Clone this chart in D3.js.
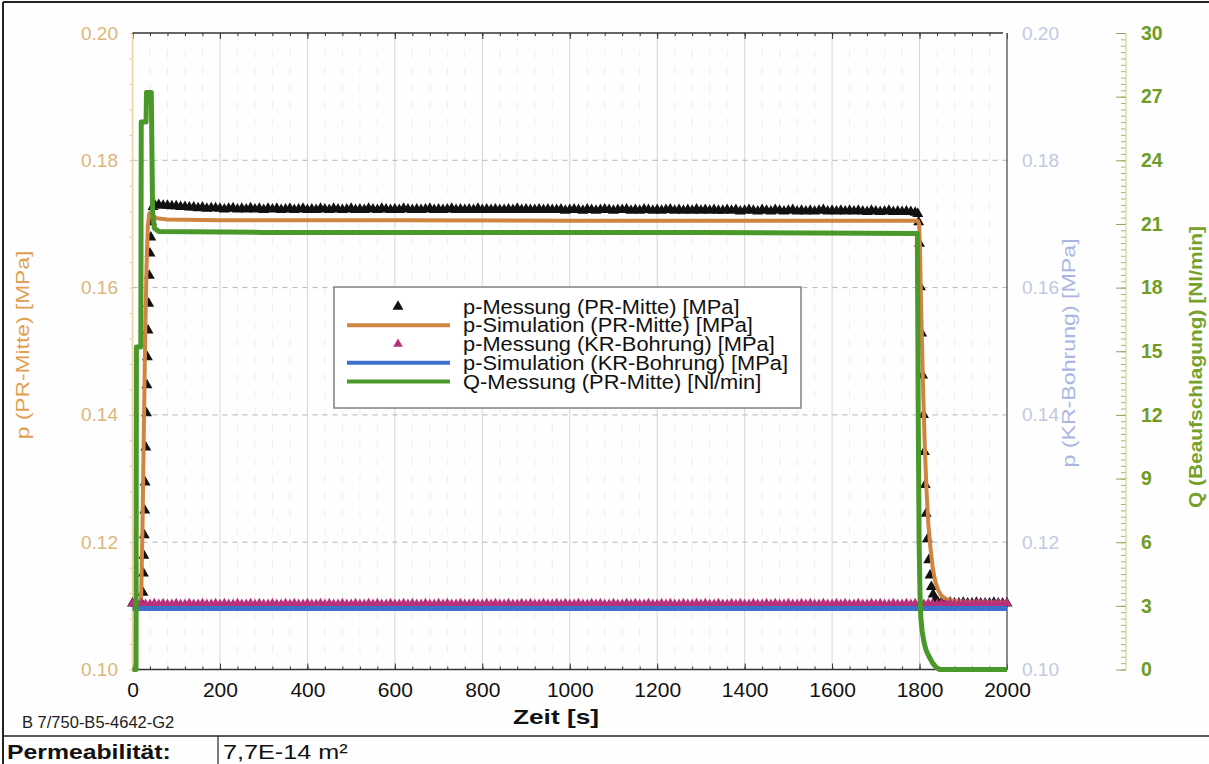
<!DOCTYPE html>
<html>
<head>
<meta charset="utf-8">
<script src="https://cdn.jsdelivr.net/npm/d3@7"></script>
<style>
body { margin: 0; background: #fff; }
svg { display: block; font-family: "Liberation Sans", Arial, sans-serif; }
</style>
</head>
<body>
<svg id="chart"></svg>
<script>
// axis ticks
const X_TICKS = [0, 200, 400, 600, 800, 1000, 1200, 1400, 1600, 1800, 2000];
const P_TICKS = [0.10, 0.12, 0.14, 0.16, 0.18, 0.20];
const Q_TICKS = [0, 3, 6, 9, 12, 15, 18, 21, 24, 27, 30];

const LEGEND_LABELS = [
    "p-Messung (PR-Mitte) [MPa]",
    "p-Simulation (PR-Mitte) [MPa]",
    "p-Messung (KR-Bohrung) [MPa]",
    "p-Simulation (KR-Bohrung) [MPa]",
    "Q-Messung (PR-Mitte) [Nl/min]"
];

// p-Messung (PR-Mitte): start + rise [t, p]
const BLACK_RISE = [
    [0, 0.1104], [10, 0.1103], [20, 0.1105], [24, 0.1121], [25, 0.1151], [26, 0.1179],
    [27, 0.1211], [28, 0.1250], [29, 0.1294], [30.5, 0.1349], [32, 0.1403], [33, 0.1447],
    [34, 0.1491], [35.5, 0.1533], [37, 0.1575], [38.5, 0.1619], [40, 0.1654], [42, 0.1679],
    [44, 0.1703], [47, 0.1727]
];
// plateau, one value every 10 s from 50 s
const BLACK_FLAT_START = 50, BLACK_FLAT_STEP = 10;
const BLACK_FLAT = [
    0.1731,0.1730,0.1729,0.1729,0.1728,0.1728,0.1727,0.1727,0.1726,0.1726,
    0.1725,0.1726,0.1724,0.1725,0.1725,0.1724,0.1723,0.1724,0.1725,0.1723,
    0.1724,0.1723,0.1725,0.1723,0.1724,0.1722,0.1724,0.1723,0.1724,0.1722,
    0.1723,0.1724,0.1722,0.1723,0.1724,0.1722,0.1723,0.1722,0.1724,0.1723,
    0.1722,0.1724,0.1723,0.1722,0.1723,0.1724,0.1722,0.1723,0.1722,0.1724,
    0.1723,0.1722,0.1724,0.1723,0.1722,0.1723,0.1722,0.1724,0.1723,0.1722,
    0.1723,0.1722,0.1723,0.1724,0.1722,0.1723,0.1722,0.1723,0.1724,0.1722,
    0.1723,0.1722,0.1723,0.1722,0.1724,0.1722,0.1723,0.1722,0.1723,0.1722,
    0.1722,0.1723,0.1722,0.1724,0.1722,0.1723,0.1722,0.1722,0.1723,0.1722,
    0.1723,0.1722,0.1722,0.1723,0.1721,0.1722,0.1723,0.1722,0.1721,0.1723,
    0.1722,0.1721,0.1722,0.1723,0.1722,0.1721,0.1722,0.1722,0.1723,0.1721,
    0.1722,0.1721,0.1723,0.1722,0.1721,0.1722,0.1721,0.1722,0.1723,0.1721,
    0.1722,0.1721,0.1722,0.1721,0.1723,0.1721,0.1722,0.1721,0.1722,0.1721,
    0.1721,0.1722,0.1721,0.1722,0.1720,0.1721,0.1722,0.1721,0.1720,0.1722,
    0.1721,0.1720,0.1722,0.1721,0.1720,0.1721,0.1722,0.1720,0.1721,0.1720,
    0.1721,0.1720,0.1721,0.1722,0.1720,0.1721,0.1720,0.1721,0.1720,0.1721,
    0.1720,0.1721,0.1720,0.1719,0.1721,0.1720,0.1719,0.1720,0.1721,0.1719,
    0.1720,0.1719,0.1720,0.1719,0.1718
];
// pressure release
const BLACK_DROP = [
    [1796, 0.1716], [1798, 0.1703], [1800, 0.1669], [1802, 0.1601], [1805, 0.1528],
    [1807, 0.1462], [1809, 0.1400], [1811, 0.1342], [1813, 0.1290], [1815, 0.1245],
    [1818, 0.1205], [1821, 0.1172], [1824, 0.1148], [1827, 0.1130], [1831, 0.1118],
    [1836, 0.1110], [1842, 0.1106]
];
const BLACK_TAIL_START = 1850, BLACK_TAIL_STEP = 10;
const BLACK_TAIL = [
    0.1105,0.1104,0.1105,0.1104,0.1104,0.1105,0.1104,0.1104,
    0.1105,0.1104,0.1104,0.1104,0.1105,0.1104,0.1104,0.1104
];

// p-Messung (KR-Bohrung), one value every 10 s
const PINK_START = 0, PINK_STEP = 10;
const PINK = [
    0.1104,0.1103,0.1104,0.1103,0.1103,0.1104,0.1103,0.1104,0.1103,0.1103,
    0.1104,0.1103,0.1103,0.1104,0.1103,0.1103,0.1104,0.1103,0.1103,0.1104,
    0.1103,0.1104,0.1103,0.1103,0.1104,0.1103,0.1103,0.1104,0.1103,0.1104,
    0.1103,0.1103,0.1104,0.1103,0.1103,0.1104,0.1103,0.1104,0.1103,0.1103,
    0.1104,0.1103,0.1103,0.1104,0.1103,0.1104,0.1103,0.1103,0.1104,0.1103,
    0.1103,0.1104,0.1103,0.1103,0.1104,0.1103,0.1104,0.1103,0.1103,0.1104,
    0.1103,0.1103,0.1104,0.1103,0.1104,0.1103,0.1103,0.1104,0.1103,0.1103,
    0.1104,0.1103,0.1104,0.1103,0.1103,0.1104,0.1103,0.1103,0.1104,0.1103,
    0.1103,0.1104,0.1103,0.1104,0.1103,0.1103,0.1104,0.1103,0.1103,0.1104,
    0.1103,0.1104,0.1103,0.1103,0.1104,0.1103,0.1103,0.1104,0.1103,0.1104,
    0.1103,0.1103,0.1104,0.1103,0.1103,0.1104,0.1103,0.1104,0.1103,0.1103,
    0.1104,0.1103,0.1103,0.1104,0.1103,0.1104,0.1103,0.1103,0.1104,0.1103,
    0.1103,0.1104,0.1103,0.1104,0.1103,0.1103,0.1104,0.1103,0.1103,0.1104,
    0.1103,0.1104,0.1103,0.1103,0.1104,0.1103,0.1103,0.1104,0.1103,0.1104,
    0.1103,0.1103,0.1104,0.1103,0.1103,0.1104,0.1103,0.1104,0.1103,0.1103,
    0.1104,0.1103,0.1103,0.1104,0.1103,0.1104,0.1103,0.1103,0.1104,0.1103,
    0.1103,0.1104,0.1103,0.1104,0.1103,0.1103,0.1104,0.1103,0.1103,0.1104,
    0.1103,0.1104,0.1103,0.1103,0.1104,0.1103,0.1103,0.1104,0.1103,0.1104,
    0.1103,0.1103,0.1104,0.1103,0.1103,0.1104,0.1103,0.1104,0.1103,0.1103,
    0.1104,0.1103,0.1103,0.1104,0.1103,0.1104,0.1103,0.1103,0.1104,0.1103,
    0.1104
];

// p-Simulation (PR-Mitte) [t, p]
const ORANGE = [
    [0, 0.1101], [18, 0.1101], [20, 0.1120], [23, 0.1230], [26, 0.1380], [29, 0.1520],
    [32, 0.1630], [35, 0.1695], [38, 0.1716], [42, 0.1719], [48, 0.1713], [55, 0.1709],
    [80, 0.1707], [200, 0.1706], [600, 0.1706], [1000, 0.1705], [1400, 0.1705],
    [1796, 0.1705], [1799, 0.1700], [1801, 0.1660], [1803, 0.1590], [1806, 0.1500],
    [1809, 0.1420], [1812, 0.1350], [1816, 0.1280], [1820, 0.1230], [1825, 0.1190],
    [1830, 0.1160], [1836, 0.1138], [1843, 0.1124], [1850, 0.1116], [1860, 0.1111],
    [1875, 0.1108], [1900, 0.1106], [2000, 0.1105]
];

// p-Simulation (KR-Bohrung) [t, p]
const BLUE = [[0, 0.1096], [2000, 0.1096]];

// Q-Messung (PR-Mitte) [t, Nl/min]
const GREEN = [
    [0, 0], [8, 0], [9, 15.2], [19, 15.2], [20, 25.8], [31, 25.8], [32, 27.2], [43, 27.2],
    [46, 21.5], [50, 20.8], [60, 20.65], [300, 20.6], [800, 20.6], [1300, 20.6],
    [1795, 20.55], [1797, 12.0], [1799, 6.0], [1801, 3.6], [1803, 2.4], [1806, 1.8],
    [1810, 1.3], [1815, 0.9], [1822, 0.6], [1830, 0.3], [1838, 0.1], [1846, 0], [2000, 0]
];

const W = 1209, H = 764;
const LEFT = 132.5, RIGHT = 1007, TOP = 33, BOTTOM = 669.5;
const Q_AXIS_X = 1126;

const C_ORANGE = "#cf8440", C_BLUE = "#3f6fcc", C_GREEN = "#4a982a", C_PINK = "#b8327a";
const FONT = "Liberation Sans, Arial, sans-serif";

window.onload = function(){
    drawChart();
};

// text with horizontal stretch (the scan has wide glyphs)
function addText(parent, str, x, y, o){
    return parent.append("text")
        .attr("transform", `translate(${x},${y}) rotate(${o.rotate || 0}) scale(${o.sx || 1},1)`)
        .attr("font-size", o.size)
        .attr("font-weight", o.weight || "normal")
        .attr("fill", o.color || "#000")
        .attr("text-anchor", o.anchor || "start")
        .attr("dominant-baseline", o.baseline || "auto")
        .text(str);
}

function drawChart(){
    let svg = d3.select("#chart")
        .attr("width", W)
        .attr("height", H);

    svg.append("rect").attr("width", W).attr("height", H).attr("fill", "#fefefe");

    let xScale = d3.scaleLinear().domain([0, 2000]).range([LEFT, RIGHT]);
    let pScale = d3.scaleLinear().domain([0.10, 0.20]).range([BOTTOM, TOP]);
    let qScale = d3.scaleLinear().domain([0, 30]).range([BOTTOM, TOP]);

    // grid
    let minorX = d3.range(0, 2001, 40);
    svg.append("g").selectAll("line")
        .data(minorX.filter(d => d % 200 != 0))
        .join("line")
        .attr("x1", d => xScale(d)).attr("x2", d => xScale(d))
        .attr("y1", TOP).attr("y2", BOTTOM)
        .attr("stroke", "#eeeeee")
        .attr("stroke-dasharray", "8,9");

    svg.append("g").selectAll("line")
        .data(X_TICKS.filter(d => d > 0 && d < 2000))
        .join("line")
        .attr("x1", d => xScale(d)).attr("x2", d => xScale(d))
        .attr("y1", TOP).attr("y2", BOTTOM)
        .attr("stroke", "#d6d6d6");

    svg.append("g").selectAll("line")
        .data(P_TICKS.filter(d => d > 0.101 && d < 0.199))
        .join("line")
        .attr("x1", LEFT).attr("x2", RIGHT)
        .attr("y1", d => pScale(d)).attr("y2", d => pScale(d))
        .attr("stroke", "#b4b4b4")
        .attr("stroke-dasharray", "5,5");

    // x axes (bottom + top) with inward ticks
    let minorP = d3.range(0.10, 0.2001, 0.004);
    let minorQ = d3.range(0, 30.01, 0.3);

    function xTicks(axisFn, y, values, size){
        let g = svg.append("g").attr("transform", `translate(0,${y})`)
            .call(axisFn(xScale).tickValues(values).tickSize(size).tickFormat(""));
        g.selectAll("line").attr("stroke", "#333");
        g.select(".domain").remove();
    }
    xTicks(d3.axisBottom, BOTTOM, minorX, -3);
    xTicks(d3.axisBottom, BOTTOM, X_TICKS, -6);
    xTicks(d3.axisTop, TOP, minorX, -3);
    xTicks(d3.axisTop, TOP, X_TICKS, -6);

    // left p axis ticks (tan)
    let gl = svg.append("g").attr("transform", `translate(${LEFT},0)`)
        .call(d3.axisLeft(pScale).tickValues(minorP).tickSize(3).tickFormat(""));
    gl.selectAll("line").attr("stroke", "#e4c898");
    gl.select(".domain").remove();

    // frame lines
    svg.append("line").attr("x1", LEFT).attr("x2", LEFT).attr("y1", TOP).attr("y2", BOTTOM)
        .attr("stroke", "#ecd4a8").attr("stroke-width", 1.5);
    svg.append("line").attr("x1", LEFT).attr("x2", RIGHT - 4).attr("y1", TOP).attr("y2", TOP)
        .attr("stroke", "#333").attr("stroke-width", 1.3);
    svg.append("line").attr("x1", LEFT).attr("x2", RIGHT).attr("y1", BOTTOM).attr("y2", BOTTOM)
        .attr("stroke", "#333").attr("stroke-width", 1.5);
    svg.append("line").attr("x1", RIGHT).attr("x2", RIGHT).attr("y1", TOP).attr("y2", BOTTOM)
        .attr("stroke", "#666").attr("stroke-width", 1.5);

    // tick labels
    let gxl = svg.append("g").attr("transform", `translate(0,${BOTTOM})`)
        .call(d3.axisBottom(xScale).tickValues(X_TICKS).tickSize(0).tickPadding(13).tickFormat(d3.format("d")));
    gxl.select(".domain").remove();
    gxl.selectAll("text").attr("font-size", 21).attr("font-family", FONT).attr("fill", "#111");

    let gpl = svg.append("g").attr("transform", `translate(${LEFT},0)`)
        .call(d3.axisLeft(pScale).tickValues(P_TICKS).tickSize(0).tickPadding(14.5).tickFormat(d3.format(".2f")));
    gpl.select(".domain").remove();
    gpl.selectAll("text").attr("font-size", 19).attr("font-family", FONT).attr("fill", "#dcb679");

    let gpr = svg.append("g").attr("transform", `translate(${RIGHT},0)`)
        .call(d3.axisRight(pScale).tickValues(P_TICKS).tickSize(0).tickPadding(15).tickFormat(d3.format(".2f")));
    gpr.select(".domain").remove();
    gpr.selectAll("text").attr("font-size", 19).attr("font-family", FONT).attr("fill", "#c2c9e2");

    // Q axis
    let gqMinor = svg.append("g").attr("transform", `translate(${Q_AXIS_X},0)`)
        .call(d3.axisLeft(qScale).tickValues(minorQ).tickSize(5).tickFormat(""));
    gqMinor.selectAll("line").attr("stroke", "#a4b870");
    gqMinor.select(".domain").remove();
    let gqMajor = svg.append("g").attr("transform", `translate(${Q_AXIS_X},0)`)
        .call(d3.axisLeft(qScale).tickValues(Q_TICKS).tickSize(10).tickFormat(""));
    gqMajor.selectAll("line").attr("stroke", "#8ea45a");
    gqMajor.select(".domain").remove();
    svg.append("line").attr("x1", Q_AXIS_X).attr("x2", Q_AXIS_X).attr("y1", TOP).attr("y2", BOTTOM)
        .attr("stroke", "#c9da90").attr("stroke-width", 1.2);
    let gql = svg.append("g").attr("transform", `translate(${Q_AXIS_X},0)`)
        .call(d3.axisRight(qScale).tickValues(Q_TICKS).tickSize(0).tickPadding(15));
    gql.select(".domain").remove();
    gql.selectAll("text").attr("font-size", 19.5).attr("font-weight", "bold")
        .attr("font-family", FONT).attr("fill", "#6f9c26");

    // series
    let plot = svg.append("g");

    let blackPts = BLACK_RISE
        .concat(BLACK_FLAT.map((v, i) => [BLACK_FLAT_START + i * BLACK_FLAT_STEP, v]))
        .concat(BLACK_DROP)
        .concat(BLACK_TAIL.map((v, i) => [BLACK_TAIL_START + i * BLACK_TAIL_STEP, v]));
    let pinkPts = PINK.map((v, i) => [PINK_START + i * PINK_STEP, v]);

    plot.append("g").selectAll("path")
        .data(blackPts)
        .join("path")
        .attr("d", d3.symbol().type(d3.symbolTriangle).size(52))
        .attr("transform", d => `translate(${xScale(d[0])},${pScale(d[1])})`)
        .attr("fill", "#111");

    let pLine = d3.line().x(d => xScale(d[0])).y(d => pScale(d[1]));
    let qLine = d3.line().x(d => xScale(d[0])).y(d => qScale(d[1]));

    plot.append("path").datum(ORANGE).attr("d", pLine)
        .attr("fill", "none").attr("stroke", C_ORANGE).attr("stroke-width", 4)
        .attr("stroke-linejoin", "round");

    plot.append("g").selectAll("path")
        .data(pinkPts)
        .join("path")
        .attr("d", d3.symbol().type(d3.symbolTriangle).size(40))
        .attr("transform", d => `translate(${xScale(d[0])},${pScale(d[1])})`)
        .attr("fill", C_PINK);

    plot.append("path").datum(BLUE).attr("d", pLine)
        .attr("fill", "none").attr("stroke", C_BLUE).attr("stroke-width", 5);

    plot.append("path").datum(GREEN).attr("d", qLine)
        .attr("fill", "none").attr("stroke", C_GREEN).attr("stroke-width", 5)
        .attr("stroke-linejoin", "round");

    // legend
    let lg = svg.append("g");
    lg.append("rect")
        .attr("x", 334).attr("y", 287).attr("width", 467).attr("height", 121)
        .attr("fill", "#fff").attr("stroke", "#808080").attr("stroke-width", 1.5);
    let rowY = d3.scaleLinear().domain([0, 4]).range([306.5, 381.5]);
    LEGEND_LABELS.forEach(function(label, i){
        let y = rowY(i);
        if (i == 0 || i == 2){
            lg.append("path")
                .attr("d", d3.symbol().type(d3.symbolTriangle).size(i == 0 ? 52 : 40))
                .attr("transform", `translate(398,${y})`)
                .attr("fill", i == 0 ? "#111" : C_PINK);
        } else {
            lg.append("line")
                .attr("x1", 347).attr("x2", 450).attr("y1", y).attr("y2", y)
                .attr("stroke", [null, C_ORANGE, null, C_BLUE, C_GREEN][i])
                .attr("stroke-width", 4);
        }
        addText(lg, label, 463, y, {size: 19.5, sx: 1.12, color: "#111", baseline: "central"});
    });

    // axis titles
    addText(svg, "p (PR-Mitte) [MPa]", 22, 345, {size: 19, sx: 1.2, rotate: -90, anchor: "middle",
        baseline: "central", color: "#e0a050"});
    addText(svg, "p (KR-Bohrung) [MPa]", 1068, 353, {size: 19, sx: 1.22, rotate: -90, anchor: "middle",
        baseline: "central", color: "#aab6e2"});
    addText(svg, "Q (Beaufschlagung) [Nl/min]", 1195, 367, {size: 19, sx: 1.1, rotate: -90, anchor: "middle",
        baseline: "central", color: "#78a12a", weight: "bold"});
    addText(svg, "Zeit [s]", 556, 724, {size: 21, sx: 1.25, anchor: "middle", weight: "bold", color: "#111"});

    // footer
    addText(svg, "B 7/750-B5-4642-G2", 22, 728, {size: 16.5, color: "#222"});
    svg.append("line").attr("x1", 3).attr("x2", W).attr("y1", 736).attr("y2", 736)
        .attr("stroke", "#222").attr("stroke-width", 1.5);
    svg.append("line").attr("x1", 218).attr("x2", 218).attr("y1", 736).attr("y2", H)
        .attr("stroke", "#222").attr("stroke-width", 1.2);
    addText(svg, "Permeabilität:", 7, 759, {size: 21, sx: 1.18, weight: "bold", color: "#111"});
    addText(svg, "7,7E-14 m²", 223, 759, {size: 21, sx: 1.2, color: "#111"});

    // outer frame
    svg.append("line").attr("x1", 3).attr("x2", W).attr("y1", 2).attr("y2", 2)
        .attr("stroke", "#222").attr("stroke-width", 2);
    svg.append("line").attr("x1", 3).attr("x2", 3).attr("y1", 2).attr("y2", H)
        .attr("stroke", "#222").attr("stroke-width", 2);
}
</script>
</body>
</html>
